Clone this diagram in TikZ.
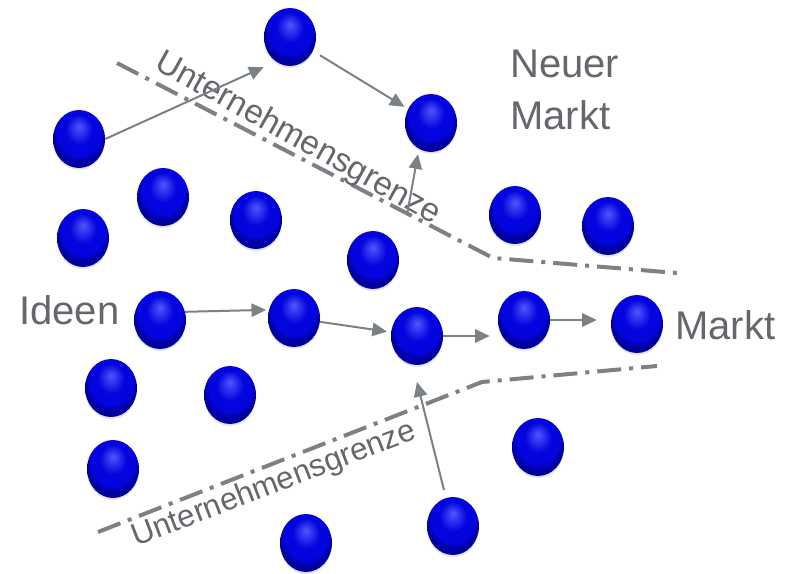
\documentclass[tikz,border=0pt]{standalone}
\usepackage{fontspec}
\setmainfont{Liberation Sans}
\usetikzlibrary{shapes.geometric,shadows,arrows.meta}

\definecolor{kugelblau}{RGB}{4,4,222}
\definecolor{kugelhell}{RGB}{78,88,252}
\definecolor{kugeldunkel}{RGB}{0,0,160}
\definecolor{pfeilgrau}{RGB}{124,129,134}
\definecolor{textgrau}{RGB}{102,102,108}

\pgfdeclareradialshading{kugelschatten}{\pgfpoint{0bp}{11bp}}{color(0bp)=(kugelhell); color(13bp)=(kugelblau); color(21bp)=(kugelblau); color(25bp)=(kugeldunkel); color(50bp)=(kugeldunkel)}

\tikzset{
  kugel/.style={ellipse, minimum width=39pt, minimum height=43.5pt, inner sep=0pt,
    shading=kugelschatten, drop shadow={shadow xshift=0pt, shadow yshift=-1.5pt, opacity=0.22}},
  pfeil/.style={draw=pfeilgrau, line width=1.5pt, -{Triangle[length=11pt,width=10pt]}},
  grenze/.style={draw=pfeilgrau, line width=3pt, dash pattern=on 18pt off 6pt on 3pt off 6pt},
  beschriftung/.style={text=textgrau, font=\fontsize{30}{39}\selectfont, inner sep=0pt},
  grenztext/.style={text=textgrau, inner sep=0pt},
}

\begin{document}
\begin{tikzpicture}[x=0.75pt,y=0.75pt,yscale=-1,xscale=1]
\useasboundingbox (0,0) rectangle (794,574);
% Grenzen
\draw[grenze] (117,63) -- (493,258) -- (677,273);
\draw[grenze] (98,532) -- (482,382) -- (657,366);
\node[grenztext, font=\fontsize{25}{30}\selectfont, rotate=-29] (g1) at (298,139) {Unternehmensgrenze};
\node[grenztext, font=\fontsize{23.5}{28}\selectfont, rotate=21] (g2) at (274,485) {Unternehmensgrenze};
% Kugeln
\node[kugel] (k1) at (290,37) {};
\node[kugel] (k2) at (79,139) {};
\node[kugel] (k3) at (431,123) {};
\node[kugel] (k4) at (163,197) {};
\node[kugel] (k5) at (83,238) {};
\node[kugel] (k6) at (256,220) {};
\node[kugel] (k7) at (373,260) {};
\node[kugel] (k8) at (515,215) {};
\node[kugel] (k9) at (608,226) {};
\node[kugel] (k10) at (160,320) {};
\node[kugel] (k11) at (294,318) {};
\node[kugel] (k12) at (417,336) {};
\node[kugel] (k13) at (524,320) {};
\node[kugel] (k14) at (637,324) {};
\node[kugel] (k15) at (111,388) {};
\node[kugel] (k16) at (230,395) {};
\node[kugel] (k17) at (113,469) {};
\node[kugel] (k18) at (538,447) {};
\node[kugel] (k19) at (306,543) {};
\node[kugel] (k20) at (453,526) {};
% Texte
\node[beschriftung, anchor=base west] (ideen) at (19,325) {Ideen};
\node[beschriftung, anchor=base west] (markt) at (675,340) {Markt};
\node[beschriftung, anchor=base west, align=left] (neu) at (510,130) {Neuer\\Markt};
% Pfeile
\coordinate (s1) at (407,215);
\coordinate (e1) at (417,382);
\draw[pfeil, shorten >=10pt] (k2.east) -- (k1.240);
\draw[pfeil, shorten <=6pt, shorten >=3pt] (k1) -- (k3);
\draw[pfeil, shorten >=4pt] (s1) -- (k3.245);
\draw[pfeil, shorten >=2pt] (k10.18) -- (k11.162);
\draw[pfeil, shorten >=3pt] (k11) -- (k12);
\draw[pfeil, shorten >=6pt] (k12.east) -- (k12.east -| k13.west);
\draw[pfeil, shorten >=10.5pt] (k13.east) -- (k13.east -| k14.west);
\draw[pfeil, shorten <=6pt] (k20) -- (e1);
\end{tikzpicture}
\end{document}
